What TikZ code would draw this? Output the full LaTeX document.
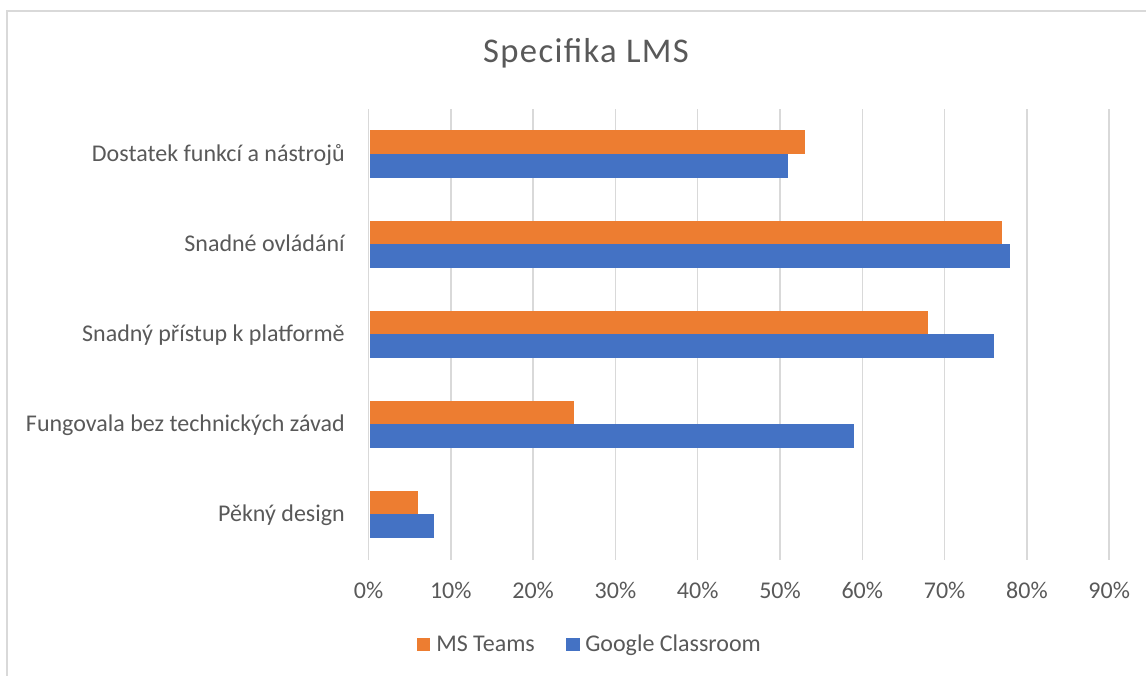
\documentclass[tikz,border=0pt]{standalone}
\usepackage{fontspec}
\setmainfont{Carlito}
\usetikzlibrary{positioning}
\definecolor{teamsorange}{HTML}{ED7D31}
\definecolor{classblue}{HTML}{4472C4}
\definecolor{gridgray}{HTML}{D9D9D9}
\definecolor{textgray}{HTML}{595959}
\begin{document}
\begin{tikzpicture} [x=0.75pt, y=-0.75pt,
        every node/.style = {text=textgray, inner sep=0pt, font=\fontsize{18}{21}\selectfont},
        gridline/.style = {draw=gridgray, line width=1.1pt},
        teamsbar/.style = {fill=teamsorange},
        classbar/.style = {fill=classblue},
        keybox/.style = {minimum size=10pt, anchor=north west}]
        \useasboundingbox (0,0) rectangle (1146,675);
        % frame of the chart
        \draw[gridgray, line width=1pt] (7,11) rectangle (1160,690);
        \node[anchor=base, font=\fontsize{26}{30}\selectfont\addfontfeature{LetterSpace=4}] (title) at (586,62.3) {Specifika LMS};
        % grid and axis labels
        \foreach \p [count=\i from 0] in {0,10,...,90} {
            \draw[gridline] (368.5+82.3*\i,109) -- (368.5+82.3*\i,560);
            \node[anchor=base] (tick\i) at (368.5+82.3*\i,598) {\p\%};
        }
        % bars: centre, name, MS Teams, Google Classroom
        \foreach \y/\name/\t/\g [count=\i] in {
            154/Dostatek funkcí a nástrojů/53/51,
            244.3/Snadné ovládání/77/78,
            334.3/Snadný přístup k platformě/68/76,
            424.3/Fungovala bez technických závad/25/59,
            514.3/Pěkný design/6/8} {
            \node[anchor=base east] (cat\i) at (345,\y+7.4) {\name};
            \fill[teamsbar] (369.5,\y-23.6) rectangle (368.5+8.23*\t,\y);
            \fill[classbar] (369.5,\y) rectangle (368.5+8.23*\g,\y+23.6);
        }
        % legend
        \node[keybox, fill=teamsorange] (keyteams) at (416.5,637.3) {};
        \node[anchor=base west] (labteams) at (436,651) {MS Teams};
        \node[keybox, fill=classblue] (keyclass) at (566,637.3) {};
        \node[anchor=base west] (labclass) at (585,651) {Google Classroom};
\end{tikzpicture}
\end{document}
